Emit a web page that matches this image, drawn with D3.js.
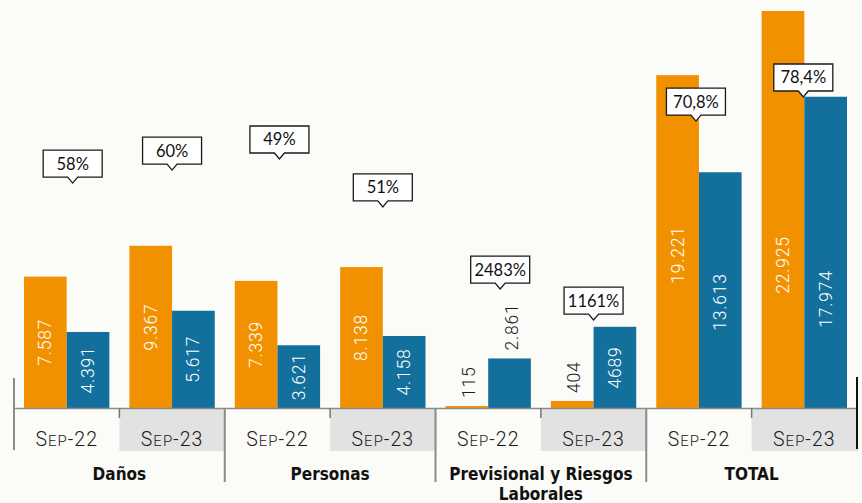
<!DOCTYPE html>
<html>
<head>
<meta charset="utf-8">
<script src="https://cdn.jsdelivr.net/npm/d3@7"></script>
<style>
  body { margin: 0; background: #fbfbf7; }
  svg { display: block; }
</style>
</head>
<body>
<div id="chart"></div>
<script>
// categories and periods
var categories = ["Daños", "Personas", "Previsional y Riesgos|Laborales", "TOTAL"];
var periods = ["Sep-22", "Sep-23"];

// orange series and blue series, one value per slot (category x period)
var primas = [7587, 9367, 7339, 8138, 115, 404, 19221, 22925];
var siniestros = [4391, 5617, 3621, 4158, 2861, 4689, 13613, 17974];
var primasText = ["7.587", "9.367", "7.339", "8.138", "115", "404", "19.221", "22.925"];
var siniestrosText = ["4.391", "5.617", "3.621", "4.158", "2.861", "4689", "13.613", "17.974"];

// ratio callouts and the value (same units as bars) their pointer sits on
var ratioText = ["58%", "60%", "49%", "51%", "2483%", "1161%", "70,8%", "78,4%"];
var ratioAnchor = [12990, 13740, 14380, 11610, 6870, 5080, 16570, 17960];

var width = 862, height = 503;
var baseY = 408;
var orange = "#f29100", blue = "#136f9b";
var numFont = "Roboto, 'DejaVu Sans Condensed', sans-serif";
var boldFont = "'DejaVu Sans Condensed', 'DejaVu Sans', sans-serif";

// where the inside label sits along its bar (0.5 = middle), the total bars were moved down by hand
var labelAlong = {primas: [.5, .5, .5, .5, .5, .5, .46, .36], siniestros: [.5, .5, .5, .5, .5, .5, .45, .35]};

var svg = d3.select("#chart").append("svg")
  .attr("width", width)
  .attr("height", height);

svg.append("rect").attr("width", width).attr("height", height).attr("fill", "#fbfbf7");

var slots = d3.range(primas.length);

var slot = d3.scaleBand().domain(slots).range([14, 857]);
var x = d3.scaleBand().domain(slots).range([14, 857]).paddingInner(0.19).paddingOuter(0.095);
var xs = d3.scaleBand().domain(["primas", "siniestros"]).range([0, x.bandwidth()]);
var y = d3.scaleLinear().domain([0, 22925]).range([baseY, 11]);

var step = slot.step();

// shaded Sep-23 cells
svg.append("g").selectAll("rect")
  .data(slots.filter(function(i) { return i % 2 === 1; }))
  .enter().append("rect")
  .attr("x", function(i) { return slot(i); })
  .attr("y", baseY + 1)
  .attr("width", step + 1)
  .attr("height", 42)
  .attr("fill", "#e2e2e2");

// bars
var rows = slots.map(function(i) {
  return [
    {i: i, key: "primas", v: primas[i], t: primasText[i], c: orange},
    {i: i, key: "siniestros", v: siniestros[i], t: siniestrosText[i], c: blue}
  ];
});
var flat = d3.merge(rows);

svg.append("g").selectAll("rect")
  .data(flat)
  .enter().append("rect")
  .attr("x", function(d) { return x(d.i) + xs(d.key); })
  .attr("y", function(d) { return y(d.v); })
  .attr("width", xs.bandwidth())
  .attr("height", function(d) { return baseY - y(d.v); })
  .attr("fill", function(d) { return d.c; });

// value labels, rotated
var vl = svg.append("g").selectAll("text")
  .data(flat)
  .enter().append("text")
  .attr("font-family", numFont)
  .attr("font-weight", 300)
  .attr("font-size", 17.5)
  .attr("letter-spacing", 0.8)
  .attr("dominant-baseline", "central")
  .text(function(d) { return d.t; });

vl.each(function(d) {
  var len = this.getComputedTextLength();
  var h = baseY - y(d.v);
  var cx = x(d.i) + xs(d.key) + xs.bandwidth() / 2;
  var t = d3.select(this);
  if (len + 12 < h) {
    var cy = baseY - h * labelAlong[d.key][d.i];
    t.attr("text-anchor", "middle").attr("fill", "#fff")
      .attr("transform", "translate(" + cx + "," + cy + ") rotate(-90)");
  } else {
    t.attr("text-anchor", "start").attr("fill", "#1a1a1a")
      .attr("transform", "translate(" + (cx + 2) + "," + (y(d.v) - 8) + ") rotate(-90)");
  }
});

// axis with period labels
var axis = svg.append("g")
  .attr("transform", "translate(0," + baseY + ")")
  .call(d3.axisBottom(slot).tickSize(0).tickSizeOuter(0)
    .tickFormat(function(i) { return periods[i % 2]; }));
axis.select(".domain").attr("stroke", "#8c8c8c").attr("stroke-width", 1.5);
axis.selectAll("text")
  .attr("y", 38).attr("dy", null)
  .attr("font-family", numFont)
  .attr("font-weight", 300)
  .attr("font-size", 19.5)
  .attr("letter-spacing", 1)
  .attr("fill", "#1a1a1a")
  .each(function() {
    // small caps: first letter full size, the rest of the word smaller
    var t = d3.select(this), s = t.text(), dash = s.indexOf("-");
    t.text(null);
    t.append("tspan").text(s[0]);
    t.append("tspan").attr("font-size", 15).text(s.slice(1, dash).toUpperCase());
    t.append("tspan").text(s.slice(dash));
  });

// separators
var sep = svg.append("g");
d3.range(categories.length + 1).forEach(function(c) {
  var xx = 14 + c * 2 * step;
  if (c === 0) {
    sep.append("line").attr("x1", xx).attr("x2", xx).attr("y1", 378).attr("y2", 450)
      .attr("stroke", "#8c8c8c").attr("stroke-width", 2);
  } else if (c === categories.length) {
    sep.append("line").attr("x1", xx).attr("x2", xx).attr("y1", 377).attr("y2", 449)
      .attr("stroke", "#111").attr("stroke-width", 2);
  } else {
    sep.append("line").attr("x1", xx).attr("x2", xx).attr("y1", baseY).attr("y2", 482)
      .attr("stroke", "#8c8c8c").attr("stroke-width", 2);
  }
  if (c < categories.length) {
    var mx = xx + step;
    sep.append("line").attr("x1", mx).attr("x2", mx).attr("y1", baseY).attr("y2", 418)
      .attr("stroke", "#777").attr("stroke-width", 1.5);
  }
});

// category labels
svg.append("g").selectAll("text")
  .data(categories)
  .enter().append("text")
  .attr("x", function(d, c) { return 14 + c * 2 * step + step; })
  .attr("y", 480)
  .attr("text-anchor", "middle")
  .attr("font-family", boldFont)
  .attr("font-weight", "bold")
  .attr("font-size", 17)
  .attr("fill", "#111")
  .each(function(d) {
    var t = d3.select(this);
    d.split("|").forEach(function(line, k) {
      t.append("tspan").attr("x", t.attr("x")).attr("dy", k === 0 ? 0 : 20).text(line);
    });
  });

// ratio callouts
var nudge = [6, 0, 2, 0, 12, 0, -3, -1];
var boxW = 59, boxH = 27;
var call = svg.append("g").selectAll("g")
  .data(slots)
  .enter().append("g")
  .attr("transform", function(i) {
    return "translate(" + (x(i) + x.bandwidth() / 2 + nudge[i]) + "," + y(ratioAnchor[i]) + ")";
  });

call.append("path")
  .attr("d", "M" + (-boxW / 2) + "," + (-6 - boxH) + "h" + boxW + "v" + boxH +
    "h" + (-(boxW / 2 - 5)) + "l-5,6l-5,-6h" + (-(boxW / 2 - 5)) + "z")
  .attr("fill", "#fff")
  .attr("stroke", "#1a1a1a")
  .attr("stroke-width", 1.3);

call.append("text")
  .attr("y", -6 - boxH / 2)
  .attr("dominant-baseline", "central")
  .attr("text-anchor", "middle")
  .attr("font-family", "Lato, 'Open Sans', sans-serif")
  .attr("font-size", 16.5)
  .attr("fill", "#111")
  .text(function(i) { return ratioText[i]; });
</script>
</body>
</html>
